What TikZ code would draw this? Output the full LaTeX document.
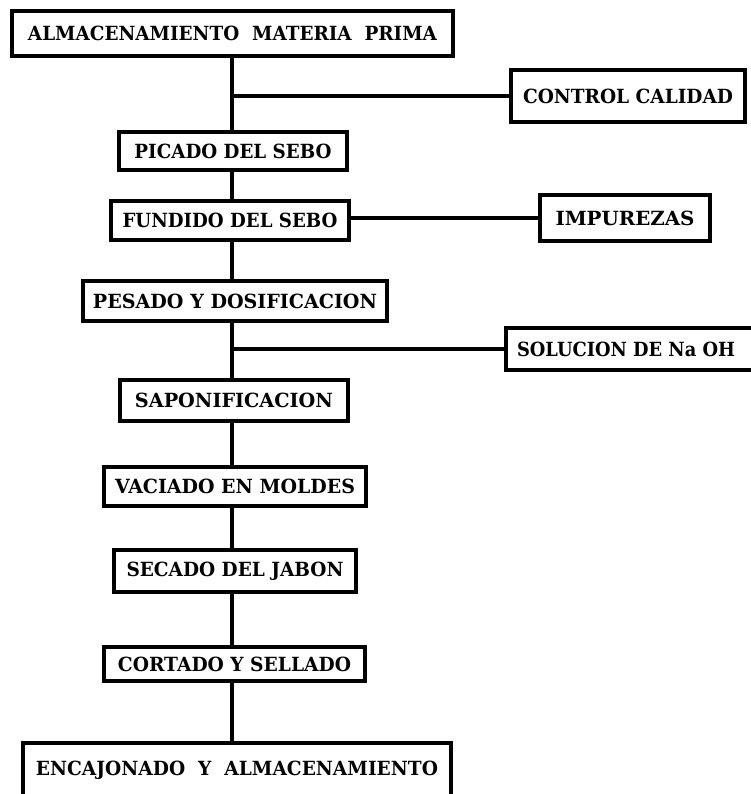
\documentclass[tikz,border=0pt]{standalone}
\usepackage{fontspec}
\setmainfont{DejaVu Serif}
\usepackage{graphicx}
\newcommand\fitw[2]{\resizebox{#1pt}{\height}{#2}}
\tikzset{
  box/.style={draw, rectangle, line width=3.8pt, inner sep=0pt,
    font=\bfseries\fontsize{19.5}{21}\selectfont},
  link/.style={line width=3.8pt}
}
\begin{document}
\begin{tikzpicture}[x=1pt,y=-1pt]
\useasboundingbox (0,0) rectangle (750,794);
\node[box, minimum width=441pt, minimum height=45.5pt] (top) at (232.5,33.5) {\fitw{409}{ALMACENAMIENTO\ \ MATERIA\ \ PRIMA}};
\node[box, minimum width=234.5pt, minimum height=52.5pt] (control) at (628,96) {\fitw{210}{CONTROL CALIDAD}};
\node[box, minimum width=228.5pt, minimum height=38.5pt] (picado) at (233,151) {\fitw{197}{PICADO DEL SEBO}};
\node[box, minimum width=238.5pt, minimum height=39.5pt] (fundido) at (230,220.5) {\fitw{215}{FUNDIDO DEL SEBO}};
\node[box, minimum width=170.5pt, minimum height=46.5pt] (impurezas) at (625,218) {\fitw{139}{IMPUREZAS}};
\node[box, minimum width=304.5pt, minimum height=40.5pt] (pesado) at (235,301) {\fitw{284}{PESADO Y DOSIFICACION}};
\node[box, minimum width=260pt, minimum height=42.5pt] (solucion) at (635.75,349) {\hspace*{-19.5pt}\fitw{218}{SOLUCION DE Na OH}};
\node[box, minimum width=228.5pt, minimum height=41.5pt] (saponif) at (234,400.5) {\fitw{198}{SAPONIFICACION}};
\node[box, minimum width=262.5pt, minimum height=39.5pt] (vaciado) at (235,486.5) {\fitw{240}{VACIADO EN MOLDES}};
\node[box, minimum width=242.5pt, minimum height=42.5pt] (secado) at (235,571) {\fitw{217}{SECADO DEL JABON}};
\node[box, minimum width=261.5pt, minimum height=34.5pt] (cortado) at (234.5,664) {\fitw{233}{CORTADO Y SELLADO}};
\node[box, minimum width=428.5pt, minimum height=56pt] (encaj) at (237,771) {\raisebox{6pt}{\fitw{402}{ENCAJONADO\ \ Y\ \ ALMACENAMIENTO}}};
\coordinate (tx) at (232,0);
\draw[link] (top.south -| tx) -- (picado.north -| tx);
\draw[link] (picado.south -| tx) -- (fundido.north -| tx);
\draw[link] (fundido.south -| tx) -- (pesado.north -| tx);
\draw[link] (pesado.south -| tx) -- (saponif.north -| tx);
\draw[link] (saponif.south -| tx) -- (vaciado.north -| tx);
\draw[link] (vaciado.south -| tx) -- (secado.north -| tx);
\draw[link] (secado.south -| tx) -- (cortado.north -| tx);
\draw[link] (cortado.south -| tx) -- (encaj.north -| tx);
\draw[link] (tx |- control.west) -- (control.west);
\draw[link] (fundido.east |- impurezas.west) -- (impurezas.west);
\draw[link] (tx |- solucion.west) -- (solucion.west);
\end{tikzpicture}
\end{document}
